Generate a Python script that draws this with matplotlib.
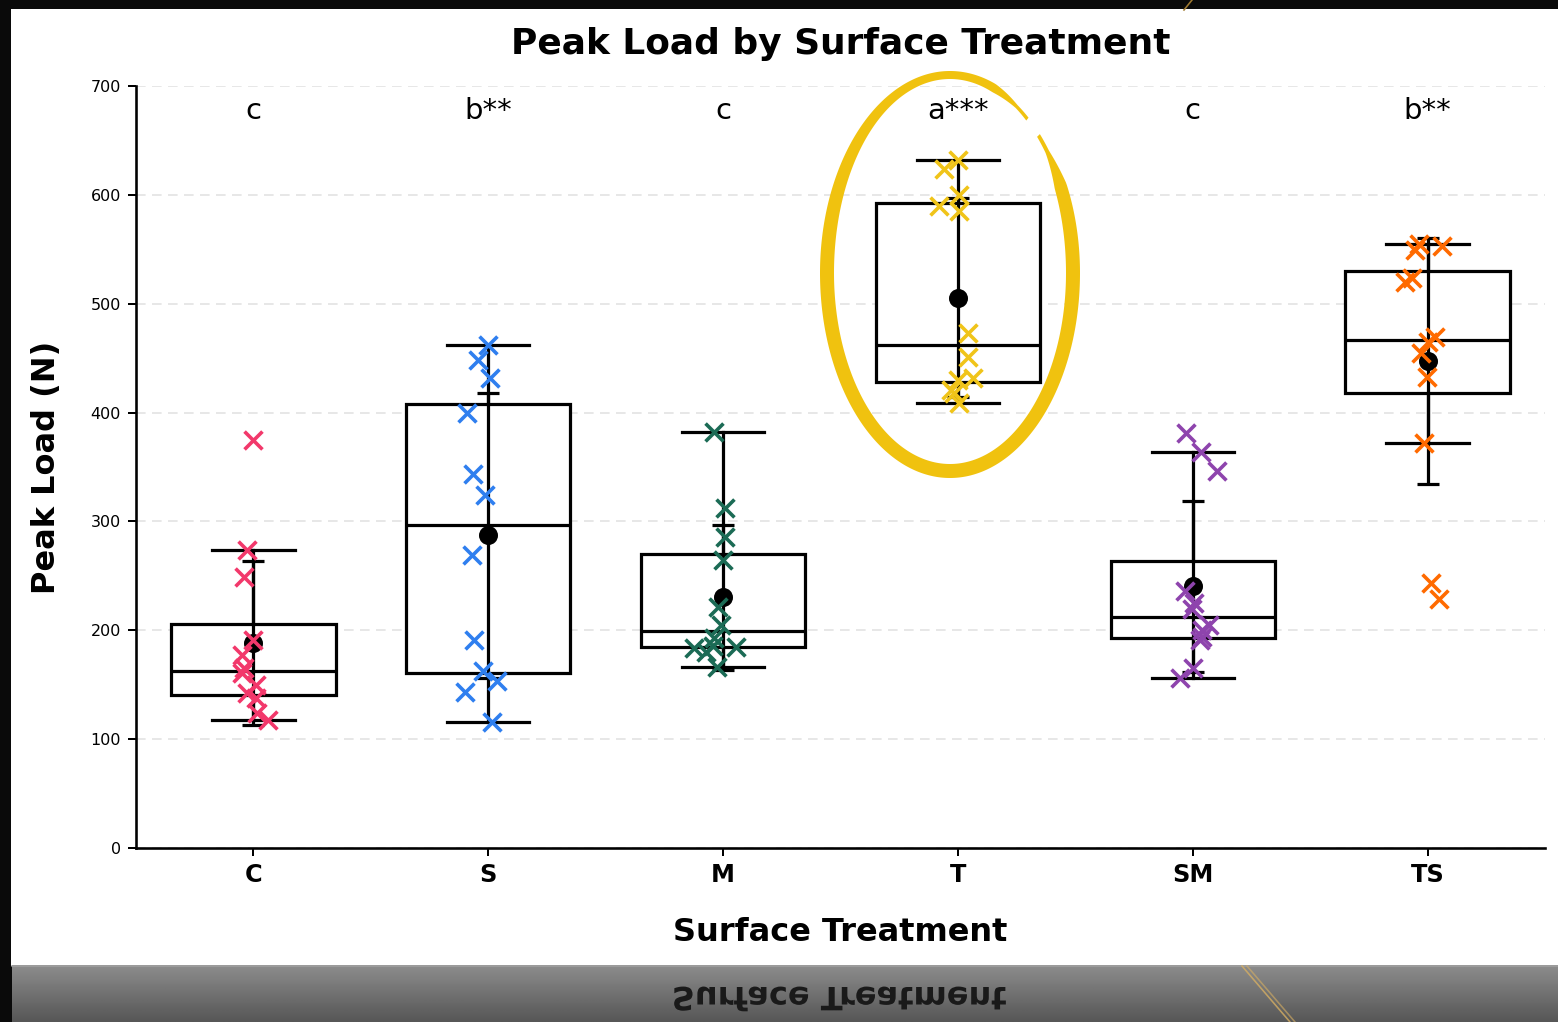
import numpy as np
import matplotlib.pyplot as plt
from matplotlib.patches import Rectangle, PathPatch
from matplotlib.textpath import TextPath
from matplotlib.font_manager import FontProperties
from matplotlib.transforms import Affine2D

groups = ["C", "S", "M", "T", "SM", "TS"]
letters = ["c", "b**", "c", "a***", "c", "b**"]
colors = ["#f2386b", "#2f7fef", "#1b6b55", "#f0c419", "#8e44ad", "#ff6a00"]

load_c = [375, 274, 249, 191, 177, 165, 161, 150, 142, 138, 124, 118]
load_s = [462, 448, 432, 400, 344, 324, 269, 191, 163, 153, 143, 116]
load_m = [382, 312, 286, 265, 221, 205, 193, 186, 184, 185, 180, 166]
load_t = [632, 624, 600, 590, 585, 473, 451, 432, 430, 421, 418, 409]
load_sm = [381, 364, 346, 236, 225, 220, 205, 200, 194, 191, 165, 156]
load_ts = [555, 553, 549, 524, 520, 469, 465, 455, 433, 372, 243, 229]

# horizontal offsets of the points (category units)
jit_c = [0, -0.026, -0.038, 0, -0.047, -0.038, -0.05, 0.013, -0.026, 0.013, 0.017, 0.06]
jit_s = [0, -0.043, 0.009, -0.09, -0.064, -0.013, -0.068, -0.06, -0.021, 0.036, -0.098, 0.017]
jit_m = [-0.038, 0.009, 0.009, 0, -0.02, -0.01, -0.038, -0.045, -0.124, 0.055, -0.073, -0.024]
jit_t = [0, -0.06, 0.004, -0.081, 0.004, 0.043, 0.043, 0.064, 0, -0.03, -0.017, 0.004]
jit_sm = [-0.03, 0.034, 0.102, -0.034, 0.004, -0.004, 0.068, 0.038, 0.038, 0.03, 0, -0.055]
jit_ts = [-0.038, 0.06, -0.055, -0.068, -0.098, 0.03, 0, -0.026, -0.004, -0.017, 0.013, 0.047]

data = [load_c, load_s, load_m, load_t, load_sm, load_ts]
jitter = [jit_c, jit_s, jit_m, jit_t, jit_sm, jit_ts]

W, H, DPI = 1558, 1022, 144
fig = plt.figure(figsize=(W / DPI, H / DPI), dpi=DPI)
fig.patch.set_facecolor("black")

# slide background: black frame, white card, grey reflection strip
bg = fig.add_axes([0, 0, 1, 1], zorder=-1)
bg.axis("off")
bg.add_patch(Rectangle((0, 0), W, H, color="#0a0a0a", zorder=0))
bg.add_patch(Rectangle((12, 10), W - 12, 955, color="white", zorder=1))
grad = np.linspace(0.55, 0.34, 60)[:, None] * np.ones((1, 10))
bg.imshow(grad, cmap="gray", vmin=0, vmax=1, extent=(12, W, H, 965), aspect="auto", zorder=2)
bg.plot([12, W], [966, 966], color="#a0a0a0", lw=0.8, zorder=3)
bg.plot([1242, 1290], [966, 1022], color="#d6ae62", lw=0.8, alpha=0.8, zorder=3)
bg.plot([1247, 1295], [966, 1022], color="#d6ae62", lw=0.8, alpha=0.6, zorder=3)
bg.plot([1192, 1184], [0, 10], color="#a07a30", lw=0.8, zorder=3)
tp = TextPath((0, 0), "Surface Treatment", size=32, prop=FontProperties(weight="bold"))
ext = tp.get_extents()
tp = tp.transformed(Affine2D().translate(840 - (ext.x0 + ext.x1) / 2, 987))
bg.add_patch(PathPatch(tp, color="#1a1a1a", lw=0, zorder=4))
bg.set_xlim(0, W)
bg.set_ylim(H, 0)

ax = fig.add_axes([136 / W, 1 - 848 / H, (1545 - 136) / W, (848 - 86) / H])
ax.set_facecolor("white")
pos = np.arange(len(groups))

ax.boxplot(data, positions=pos, widths=0.7, showfliers=False, patch_artist=True,
           boxprops=dict(facecolor="white", edgecolor="black", linewidth=1.6),
           medianprops=dict(color="black", linewidth=1.6),
           whiskerprops=dict(color="black", linewidth=1.6),
           capprops=dict(color="black", linewidth=1.6), zorder=2)

means = [np.mean(d) for d in data]
sds = [np.std(d, ddof=1) for d in data]
ax.errorbar(pos, means, yerr=sds, fmt="o", color="black", ms=8.5, capsize=5.5,
            elinewidth=1.6, capthick=1.6, zorder=3)

for i, (vals, jit, col) in enumerate(zip(data, jitter, colors)):
    ax.scatter(i + np.array(jit), vals, marker="x", s=80, color=col, linewidths=1.8, zorder=4)
    ax.text(i, 670, letters[i], ha="center", va="baseline", fontsize=14.5)

ax.set_xlim(-0.5, 5.5)
ax.set_ylim(0, 700)
ax.set_yticks(range(0, 701, 100))
ax.set_xticks(pos)
ax.set_xticklabels(groups, fontsize=12, fontweight="bold")
ax.tick_params(axis="y", labelsize=8, length=4, width=1)
ax.tick_params(axis="x", length=4, width=1)
ax.yaxis.grid(True, color="#e2e2e2", linewidth=0.8, dashes=(6, 4))
ax.set_axisbelow(True)
for s in ["top", "right"]:
    ax.spines[s].set_visible(False)
for s in ["left", "bottom"]:
    ax.spines[s].set_linewidth(1.3)

ax.set_title("Peak Load by Surface Treatment", fontsize=18, fontweight="bold", pad=16)
ax.set_xlabel("Surface Treatment", fontsize=16, fontweight="bold", labelpad=15)
ax.set_ylabel("Peak Load (N)", fontsize=16, fontweight="bold", labelpad=14)

# hand-drawn highlight around the T group (brush stroke, pixel coords)
ov = fig.add_axes([0, 0, 1, 1], zorder=10)
ov.axis("off")
ov.patch.set_alpha(0)
t = np.radians(np.linspace(51, 404, 400))
ang = np.degrees(t)
w = 14 - 6 * np.clip(np.sin(t), 0, 1) ** 2
w *= np.clip(np.minimum(ang - 51, 404 - ang) / 18, 0.35, 1)
cx, cy, a, b = 950, 273, 123, 198
xo, yo = cx + (a + w / 2) * np.cos(t), cy - (b + w / 2) * np.sin(t)
xi, yi = cx + (a - w / 2) * np.cos(t), cy - (b - w / 2) * np.sin(t)
ov.fill(np.r_[xo, xi[::-1]], np.r_[yo, yi[::-1]], color="#f0c20f", lw=0)
ov.set_xlim(0, W)
ov.set_ylim(H, 0)

fig.savefig("out.png", dpi=DPI)
